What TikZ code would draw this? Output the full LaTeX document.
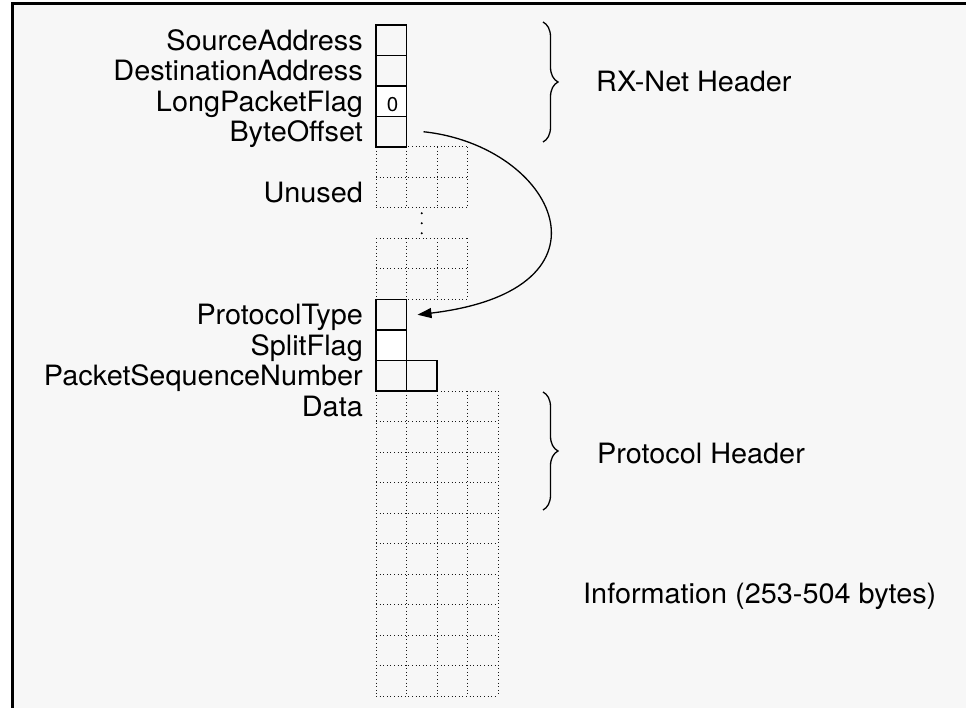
\documentclass[tikz,border=0pt]{standalone}
\usepackage{fontspec}
\setmainfont{TeX Gyre Heros}[FakeStretch=1.03]
\usetikzlibrary{arrows.meta,decorations.pathreplacing}
\definecolor{paper}{RGB}{247,247,247}
\begin{document}
\begin{tikzpicture}[x=1pt,y=-1pt,
  cell/.style={draw,line width=1.2pt,minimum width=30.5pt,minimum height=30.5pt,
    inner sep=0pt,outer sep=0pt},
  blank/.style={cell,fill=white},
  fieldname/.style={anchor=base east,inner sep=0pt,font=\fontsize{28}{34}\selectfont},
  note/.style={anchor=base west,inner sep=0pt,font=\fontsize{28}{34}\selectfont},
  faint/.style={line width=1pt,dash pattern=on 1pt off 2.6pt,black!90},
  hbrace/.style={decorate,decoration={brace,amplitude=15pt},line width=1.3pt},
  link/.style={line width=1.3pt,-{Triangle[length=14pt,width=10pt]}}]
% page and frame
\useasboundingbox (0,0) rectangle (966,708);
\fill[white] (0,0) rectangle (966,708);
\fill[paper] (12.5,4) rectangle (966,708);
\draw[line width=3pt] (12.5,708) -- (12.5,4) -- (966,4);

% dotted byte grids: unused area (two blocks) and data area
\foreach \top/\rows/\cols in {147/2/3, 238.5/2/3, 391/10/4}{
  \foreach \r in {0,...,\rows}
    \draw[faint] (376,\top+30.5*\r) -- (376+30.5*\cols,\top+30.5*\r);
  \foreach \c in {0,...,\cols}
    \draw[faint] (376+30.5*\c,\top) -- (376+30.5*\c,\top+30.5*\rows);
}
% elision dots between the unused blocks
\foreach \y in {213.25,223.25,233.25}
  \fill (421.75,\y) circle (1.1pt);

% header fields
\node[cell]  (sa)   at (391.25,40.25)  {};
\node[cell]  (da)   at (391.25,70.75)  {};
\node[blank] (lpf)  at (391.25,101.25) {};
\node[cell]  (bo)   at (391.25,131.75) {};
\node[cell]  (pt)   at (391.25,314.75) {};
\node[blank] (sf)   at (391.25,345.25) {};
\node[cell]  (psn1) at (391.25,375.75) {};
\node[cell]  (psn2) at (421.75,375.75) {};
\node[inner sep=0pt,font=\fontsize{20}{24}\selectfont] (zero) at (392.5,105) {0};

% field names
\node[fieldname] (tsa)   at (363,50.25)  {SourceAddress};
\node[fieldname] (tda)   at (363,80.75)  {DestinationAddress};
\node[fieldname] (tlpf)  at (363,111.25) {LongPacketFlag};
\node[fieldname] (tbo)   at (363,141.75) {ByteOffset};
\node[fieldname] (tun)   at (363,202.75) {Unused};
\node[fieldname] (tpt)   at (363,324.75) {ProtocolType};
\node[fieldname] (tsf)   at (363,355.25) {SplitFlag};
\node[fieldname] (tpsn)  at (363,385.75) {PacketSequenceNumber};
\node[fieldname] (tdata) at (363,416.25) {Data};

% offset pointer
\draw[link] ([xshift=17pt]bo.east) .. controls +(132,14) and +(208,-25) .. ([xshift=11pt]pt.east);

% section braces and notes
\coordinate (rxa) at (543,22);
\coordinate (rxb) at (543,142);
\coordinate (pha) at (543,392);
\coordinate (phb) at (543,510);
\draw[hbrace] (rxa) -- (rxb);
\draw[hbrace] (pha) -- (phb);
\node[note] (rx)   at (596,92)  {RX-Net Header};
\node[note] (ph)   at (597,463) {Protocol Header};
\node[note] (info) at (583,603) {Information (253-504 bytes)};
\end{tikzpicture}
\end{document}
